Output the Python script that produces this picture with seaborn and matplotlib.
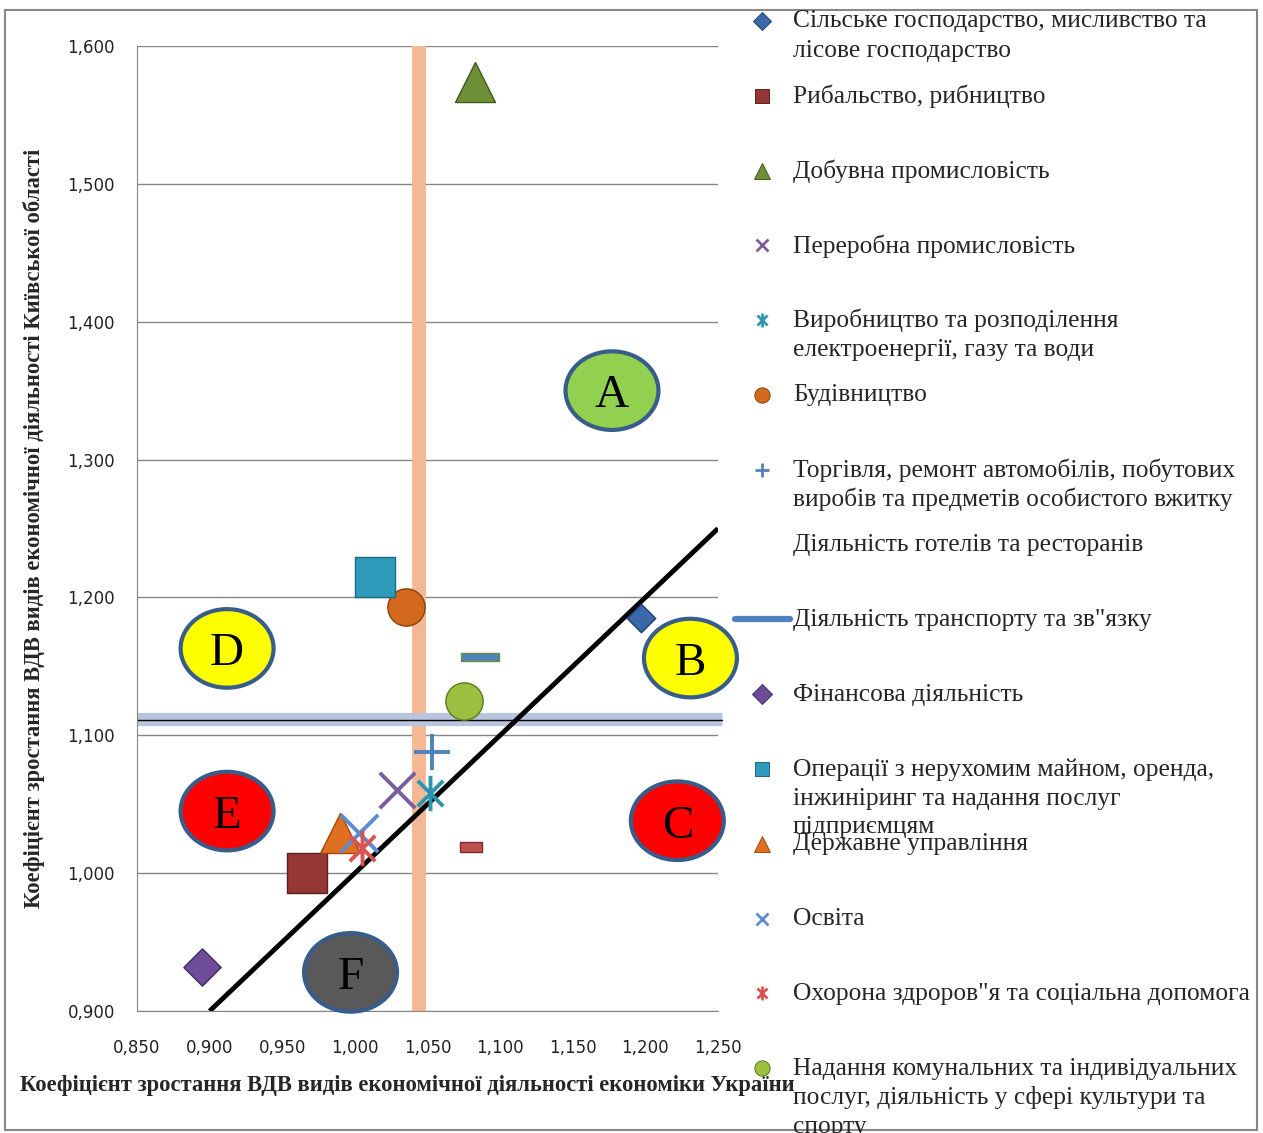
import matplotlib
matplotlib.use("Agg")
import matplotlib.pyplot as plt
import seaborn as sns
from matplotlib.patches import Ellipse, Rectangle
from matplotlib.lines import Line2D
from matplotlib.path import Path
from matplotlib.ticker import FuncFormatter, MultipleLocator

# дані: коефіцієнти зростання ВДВ (Україна / Київська область)
sectors = [
    "Сільське господарство, мисливство та\nлісове господарство",
    "Рибальство, рибництво",
    "Добувна промисловість",
    "Переробна промисловість",
    "Виробництво та розподілення\nелектроенергії, газу та води",
    "Будівництво",
    "Торгівля, ремонт автомобілів, побутових\nвиробів та предметів особистого вжитку",
    "Діяльність готелів та ресторанів",
    "Діяльність транспорту та зв\"язку",
    "Фінансова діяльність",
    "Операції з нерухомим майном, оренда,\nінжиніринг та надання послуг\nпідприємцям",
    "Державне управління",
    "Освіта",
    "Охорона здроров\"я та соціальна допомога",
    "Надання комунальних та індивідуальних\nпослуг, діяльність у сфері культури та\nспорту",
]
x_ukraine = [1.197, 0.967, 1.083, 1.029, 1.052, 1.035, 1.053, 1.086, 1.080,
             0.895, 1.014, 0.990, 1.003, 1.005, 1.075]
y_kyiv = [1.185, 1.000, 1.574, 1.060, 1.058, 1.193, 1.088, 1.157, 1.019,
          0.932, 1.215, 1.029, 1.029, 1.018, 1.125]

zones = ["A", "B", "C", "D", "E", "F"]
zone_x = [1.177, 1.231, 1.222, 0.912, 0.912, 0.997]
zone_y = [1.350, 1.156, 1.038, 1.163, 1.045, 0.928]
zone_colors = ["#92D050", "#FFFF00", "#FF0000", "#FFFF00", "#FF0000", "#595959"]

avg_ukraine = 1.044   # вертикальна смуга
avg_kyiv = 1.112      # горизонтальна смуга

# маркери
asterisk = Path([(0, -1), (0, 1), (-0.72, -0.72), (0.72, 0.72), (-0.72, 0.72), (0.72, -0.72)],
                [Path.MOVETO, Path.LINETO] * 3)
dash_big = [(-1, -0.23), (1, -0.23), (1, 0.23), (-1, 0.23), (-1, -0.23)]
dash_small = [(-1, -0.5), (1, -0.5), (1, 0.5), (-1, 0.5), (-1, -0.5)]

markers = ["D", "s", "^", "x", asterisk, "o", "+", dash_big, dash_small,
           "D", "s", "^", "x", asterisk, "o"]
colors = ["#3A68A8", "#953735", "#6F8F36", "#7B5D9E", "#2F95AE", "#D2691E",
          "#4F81BD", "#4F81BD", "#C0504D", "#6E4C9A", "#2E9BBB", "#E07020",
          "#5B8BD0", "#D9534F", "#9BC040"]
edges = ["#1F3F6E", "#5E1E1C", "#3F5A1E", None, "#2F95AE", "#8A4210",
         None, "#6F8F36", "#7A2A28", "#3F2A60", "#1D6A80", "#9A4A10",
         None, "#D9534F", "#5E7A20"]
edge_w = [1, 1, 1, 2.8, 2.8, 1, 2.8, 1, 1, 1, 1, 1, 2.8, 2.8, 1]
sizes = [210, 830, 830, 650, 650, 720, 650, 760, 240, 360, 830, 830, 720, 650, 720]
legend_sizes = [9, 10, 11, 9, 10, 11, 10, 0, 0, 10, 10, 11, 9, 10, 11]

sns.set_style("white")
plt.rcParams["font.family"] = ["Liberation Serif", "DejaVu Sans"]

fig = plt.figure(figsize=(12.63, 11.33), dpi=100)
ax = fig.add_axes([0.1085, 0.1077, 0.46, 0.8517])

ax.set_xlim(0.85, 1.25)
ax.set_ylim(0.9, 1.6)
ax.xaxis.set_major_locator(MultipleLocator(0.05))
ax.yaxis.set_major_locator(MultipleLocator(0.1))
fmt = FuncFormatter(lambda v, p: f"{v:.3f}".replace(".", ","))
ax.xaxis.set_major_formatter(fmt)
ax.yaxis.set_major_formatter(fmt)
ax.yaxis.grid(True, color="#868686", lw=1)
ax.xaxis.grid(False)
ax.set_axisbelow(True)
for s in ["top", "right"]:
    ax.spines[s].set_visible(False)
for s in ["left", "bottom"]:
    ax.spines[s].set_color("#868686")
ax.tick_params(axis="both", direction="out", length=6, color="#868686",
               labelsize=12, labelcolor="#222222")
ax.tick_params(axis="x", pad=14)
ax.tick_params(axis="y", pad=10)
for lab in ax.get_xticklabels() + ax.get_yticklabels():
    lab.set_fontfamily("DejaVu Sans")

# смуги середніх значень та лінія y = x
ax.axvline(avg_ukraine, color="#F5B895", lw=10, zorder=2, solid_capstyle="butt")
ax.plot([0.85, 1.253], [avg_kyiv, avg_kyiv], color="#B9C5DC", lw=9.5,
        zorder=2.1, clip_on=False, solid_capstyle="butt")
ax.plot([0.85, 1.253], [avg_kyiv - 0.0012, avg_kyiv - 0.0012], color="black",
        lw=1, zorder=2.2, clip_on=False)
ax.plot([0.9, 1.25], [0.9, 1.25], color="black", lw=3.5, zorder=3,
        solid_capstyle="butt")

# зони
for z, zx, zy, zc in zip(zones, zone_x, zone_y, zone_colors):
    ax.add_patch(Ellipse((zx, zy), 0.064, 0.057, facecolor=zc, edgecolor="#385D8A",
                         lw=3, zorder=3, clip_on=False))
    ax.text(zx, zy - 0.004, z, fontsize=34, ha="center", va="center",
            color="black", zorder=3.5)

# точки
for i in range(len(sectors)):
    kw = dict(x=[x_ukraine[i]], y=[y_kyiv[i]], ax=ax, marker=markers[i],
              s=sizes[i], zorder=4, legend=False)
    if edges[i] is None:
        sns.scatterplot(color=colors[i], linewidth=edge_w[i], **kw)
    else:
        sns.scatterplot(color=colors[i], edgecolor=edges[i], linewidth=edge_w[i], **kw)

ax.set_xlabel("Коефіцієнт зростання ВДВ видів економічної діяльності економіки України",
              fontsize=16.3, fontweight="bold")
ax.xaxis.set_label_coords(0.465, -0.066)
ax.set_ylabel("Коефіцієнт зростання ВДВ видів економічної діяльності Київської області",
              fontsize=16.3, fontweight="bold")
ax.yaxis.set_label_coords(-0.158, 0.5)

# легенда
W, H = 1263, 1133
for i, name in enumerate(sectors):
    yp = 21 + i * 74.8
    fy = 1 - yp / H
    if i == 8:
        fig.add_artist(Line2D([735 / W, 790 / W], [fy, fy], color="#4F81BD", lw=4.5,
                              solid_capstyle="round", transform=fig.transFigure))
    elif legend_sizes[i] > 0:
        fig.add_artist(Line2D([762 / W], [fy], marker=markers[i], markersize=legend_sizes[i],
                              color=colors[i], markerfacecolor=colors[i],
                              markeredgecolor=edges[i] if edges[i] else colors[i],
                              markeredgewidth=edge_w[i] * 0.7, linestyle="none",
                              transform=fig.transFigure))
    for k, line in enumerate(name.split("\n")):
        fig.text(793 / W, 1 - (yp - 2 + k * 29) / H, line, fontsize=18.4,
                 ha="left", va="center_baseline")

fig.add_artist(Rectangle((5 / W, 3 / H), 1252 / W, 1120 / H, fill=False,
                         edgecolor="#888888", lw=1.5, transform=fig.transFigure))

fig.savefig("out.png", dpi=100)
